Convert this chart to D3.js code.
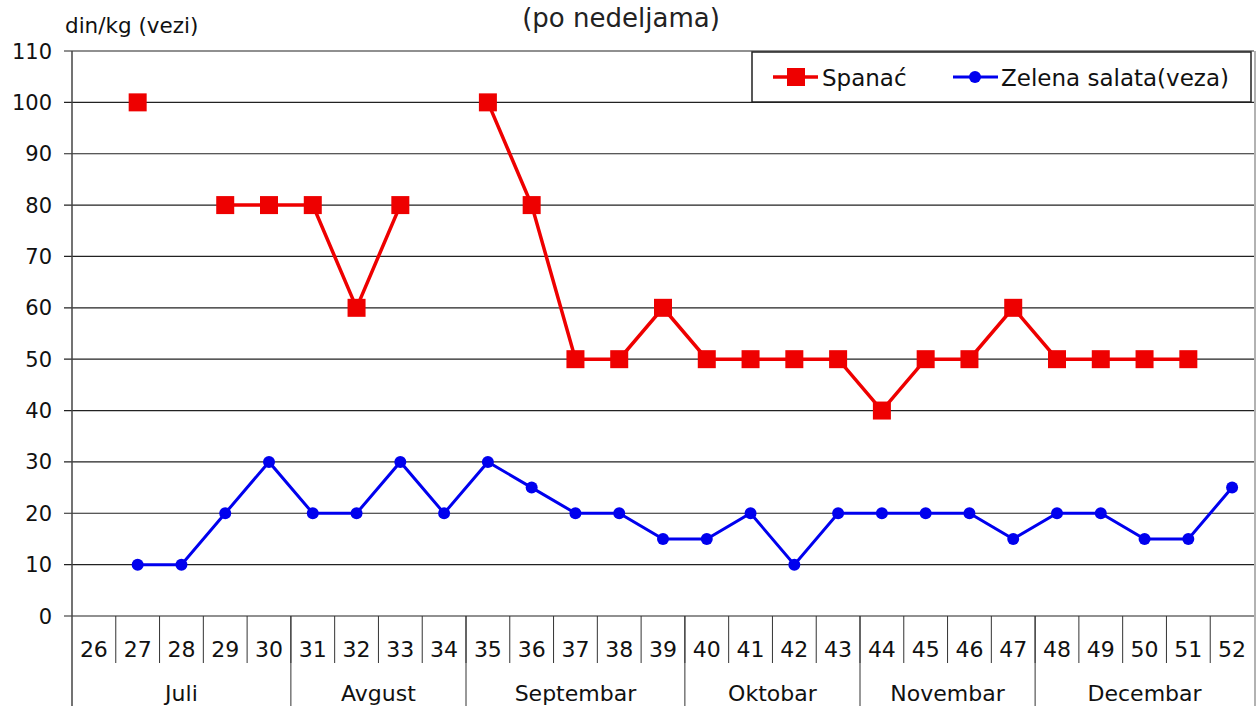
<!DOCTYPE html>
<html>
<head>
<meta charset="utf-8">
<script src="https://cdnjs.cloudflare.com/ajax/libs/d3/7.8.5/d3.min.js"></script>
<style>
  body { margin: 0; background: #fff; }
  svg { display: block; font-family: "DejaVu Sans", Verdana, sans-serif; }
</style>
</head>
<body>
<svg id="chart" width="1258" height="706"></svg>
<script>
var weeks = ["26","27","28","29","30","31","32","33","34","35","36","37","38","39","40","41","42","43","44","45","46","47","48","49","50","51","52"];
var spanac = [null,100,null,80,80,80,60,80,null,100,80,50,50,60,50,50,50,50,40,50,50,60,50,50,50,50,null];
var salata = [null,10,10,20,30,20,20,30,20,30,25,20,20,15,15,20,10,20,20,20,20,15,20,20,15,15,25];
var months = ["Juli","Avgust","Septembar","Oktobar","Novembar","Decembar"];
var monthWeeks = [5,4,5,4,4,5];
var yTicks = [0,10,20,30,40,50,60,70,80,90,100,110];

var svg = d3.select("#chart");
var plotL = 72, plotR = 1254, plotT = 51, plotB = 616;

var x = d3.scaleBand().domain(weeks).range([plotL, plotR]);
var y = d3.scaleLinear().domain([0, 110]).range([plotB, plotT]);

// title (upper line is cut off in the picture)
svg.append("text")
  .attr("x", 621).attr("y", 27)
  .attr("text-anchor", "middle")
  .attr("font-size", "26px")
  .attr("fill", "#222")
  .text("(po nedeljama)");

svg.append("text")
  .attr("x", 65).attr("y", 33)
  .attr("font-size", "21.5px")
  .attr("fill", "#111")
  .text("din/kg (vezi)");

// gridlines + y ticks
svg.append("g")
  .selectAll("line")
  .data(yTicks)
  .enter().append("line")
  .attr("x1", plotL - 8).attr("x2", plotR)
  .attr("y1", function(d) { return y(d); })
  .attr("y2", function(d) { return y(d); })
  .attr("stroke", "#222")
  .attr("stroke-width", 1.2);

svg.append("g")
  .selectAll("text")
  .data(yTicks)
  .enter().append("text")
  .attr("x", 52)
  .attr("y", function(d) { return y(d); })
  .attr("dy", "0.36em")
  .attr("text-anchor", "end")
  .attr("font-size", "21px")
  .attr("fill", "#111")
  .text(function(d) { return d; });

// frame
svg.append("line")
  .attr("x1", plotL).attr("x2", plotL)
  .attr("y1", plotT).attr("y2", 706)
  .attr("stroke", "#444").attr("stroke-width", 1.5);
svg.append("line")
  .attr("x1", plotR + 1).attr("x2", plotR + 1)
  .attr("y1", plotT).attr("y2", 706)
  .attr("stroke", "#999").attr("stroke-width", 1.5);

// week separators and labels
svg.append("g")
  .selectAll("line")
  .data(weeks.slice(1))
  .enter().append("line")
  .attr("x1", function(d) { return x(d); })
  .attr("x2", function(d) { return x(d); })
  .attr("y1", plotB).attr("y2", 663)
  .attr("stroke", "#333").attr("stroke-width", 1);

svg.append("g")
  .selectAll("text")
  .data(weeks)
  .enter().append("text")
  .attr("x", function(d) { return x(d) + x.bandwidth() / 2; })
  .attr("y", 657)
  .attr("text-anchor", "middle")
  .attr("font-size", "22px")
  .attr("fill", "#111")
  .text(function(d) { return d; });

// month groups
var idx = 0;
var monthData = months.map(function(m, i) {
  var start = idx;
  idx += monthWeeks[i];
  return { name: m, x0: x(weeks[start]), x1: x(weeks[idx - 1]) + x.bandwidth() };
});

svg.append("g")
  .selectAll("line")
  .data(monthData.slice(1))
  .enter().append("line")
  .attr("x1", function(d) { return d.x0; })
  .attr("x2", function(d) { return d.x0; })
  .attr("y1", plotB).attr("y2", 706)
  .attr("stroke", "#333").attr("stroke-width", 1);

svg.append("g")
  .selectAll("text")
  .data(monthData)
  .enter().append("text")
  .attr("x", function(d) { return (d.x0 + d.x1) / 2; })
  .attr("y", 701)
  .attr("text-anchor", "middle")
  .attr("font-size", "22px")
  .attr("fill", "#111")
  .text(function(d) { return d.name; });

// series
function cx(i) { return x(weeks[i]) + x.bandwidth() / 2; }

var line = d3.line()
  .defined(function(d) { return d != null; })
  .x(function(d, i) { return cx(i); })
  .y(function(d) { return y(d); });

svg.append("path")
  .datum(salata)
  .attr("d", line)
  .attr("fill", "none")
  .attr("stroke", "#0000ee")
  .attr("stroke-width", 3);

svg.append("g")
  .selectAll("circle")
  .data(salata.map(function(v, i) { return { v: v, i: i }; }).filter(function(d) { return d.v != null; }))
  .enter().append("circle")
  .attr("cx", function(d) { return cx(d.i); })
  .attr("cy", function(d) { return y(d.v); })
  .attr("r", 6)
  .attr("fill", "#0000ee");

svg.append("path")
  .datum(spanac)
  .attr("d", line)
  .attr("fill", "none")
  .attr("stroke", "#ee0000")
  .attr("stroke-width", 3.5);

svg.append("g")
  .selectAll("rect")
  .data(spanac.map(function(v, i) { return { v: v, i: i }; }).filter(function(d) { return d.v != null; }))
  .enter().append("rect")
  .attr("x", function(d) { return cx(d.i) - 9; })
  .attr("y", function(d) { return y(d.v) - 9; })
  .attr("width", 18).attr("height", 18)
  .attr("fill", "#ee0000");

// legend
var lg = svg.append("g");
lg.append("rect")
  .attr("x", 752).attr("y", 52)
  .attr("width", 499).attr("height", 50)
  .attr("fill", "#fff")
  .attr("stroke", "#222").attr("stroke-width", 1.5);

lg.append("line").attr("x1", 773).attr("x2", 818).attr("y1", 77).attr("y2", 77)
  .attr("stroke", "#ee0000").attr("stroke-width", 3.5);
lg.append("rect").attr("x", 787).attr("y", 68).attr("width", 18).attr("height", 18)
  .attr("fill", "#ee0000");
lg.append("text").attr("x", 822).attr("y", 86)
  .attr("font-size", "23px").attr("fill", "#111").text("Spanać");

lg.append("line").attr("x1", 953).attr("x2", 998).attr("y1", 77).attr("y2", 77)
  .attr("stroke", "#0000ee").attr("stroke-width", 3);
lg.append("circle").attr("cx", 975).attr("cy", 77).attr("r", 6)
  .attr("fill", "#0000ee");
lg.append("text").attr("x", 1001).attr("y", 86)
  .attr("font-size", "23px").attr("fill", "#111").text("Zelena salata(veza)");
</script>
</body>
</html>
